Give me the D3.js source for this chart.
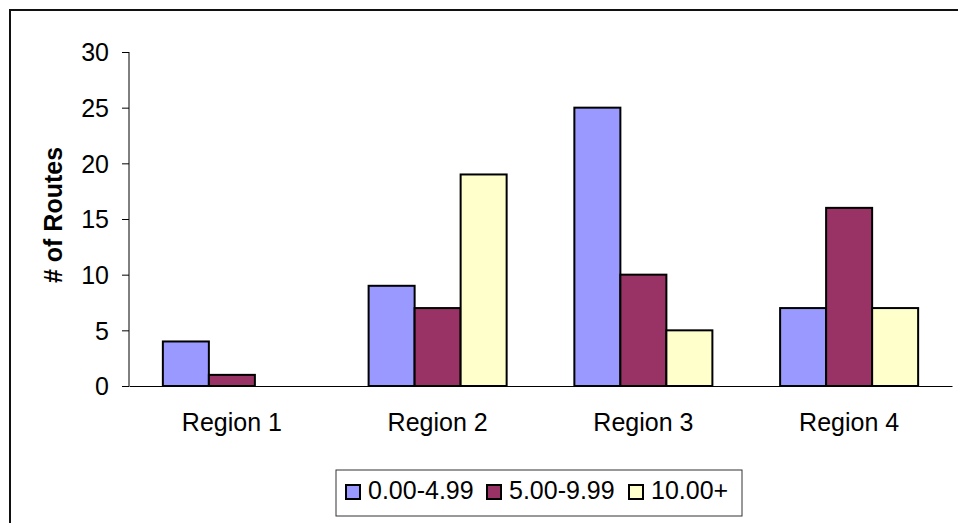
<!DOCTYPE html>
<html><head><meta charset="utf-8">
<script src="https://cdn.jsdelivr.net/npm/d3@7"></script>
<style>body{margin:0;background:#fff}svg{display:block}text{font-family:"Liberation Sans",Arial,sans-serif}</style>
</head><body>
<script>
const categories = ["Region 1","Region 2","Region 3","Region 4"];
const seriesNames = ["0.00-4.99","5.00-9.99","10.00+"];
const seriesColors = ["#9999FF","#993366","#FFFFCC"];
const low = [4,9,25,7];
const mid = [1,7,10,16];
const high = [0,19,5,7];
const yTicks = [0,5,10,15,20,25,30];
const values = [low, mid, high];

const W=958,H=523;
const svg=d3.select("body").append("svg").attr("width",W).attr("height",H);
svg.append("rect").attr("x",10).attr("y",10).attr("width",1000).attr("height",1000)
  .attr("fill","#fff").attr("stroke","#111").attr("stroke-width",2);

const plot={l:129,r:952,t:52,b:386};
const x=d3.scaleBand().domain(categories).range([plot.l,plot.r]).paddingInner(0).paddingOuter(0);
const xs=d3.scaleBand().domain(seriesNames).range([0,x.bandwidth()]).paddingInner(0).paddingOuter(0.736);
const y=d3.scaleLinear().domain([0,30]).range([plot.b,plot.t]);

// y axis
const ya=svg.append("g").attr("transform",`translate(${plot.l},0)`)
  .call(d3.axisLeft(y).tickValues(yTicks).tickSize(7).tickPadding(13).tickFormat(d3.format("d")));
ya.select(".domain").attr("stroke","#000").attr("d",`M-0,${plot.t}V${plot.b}`);
ya.selectAll(".tick line").attr("stroke","#000");
ya.selectAll(".tick text").attr("font-size",25).attr("fill","#000").attr("dy","0.35em")
  .style("font-family",'"Liberation Sans",Arial,sans-serif');

// bars
categories.forEach((c,ci)=>{
  seriesNames.forEach((s,si)=>{
    const v=values[si][ci];
    if(v<=0) return;
    svg.append("rect").attr("x",x(c)+xs(s)).attr("y",y(v))
      .attr("width",xs.bandwidth()).attr("height",y(0)-y(v))
      .attr("fill",seriesColors[si]).attr("stroke","#000").attr("stroke-width",2);
  });
});

// x axis
const xa=svg.append("g").attr("transform",`translate(0,${plot.b})`)
  .call(d3.axisBottom(x).tickSize(0).tickPadding(27));
xa.select(".domain").attr("stroke","#000");
xa.selectAll(".tick text").attr("font-size",25).attr("fill","#000")
  .style("font-family",'"Liberation Sans",Arial,sans-serif');

// axis title
svg.append("text").attr("transform","translate(62,215) rotate(-90)")
  .attr("text-anchor","middle").attr("font-size",25).attr("font-weight","bold").text("# of Routes");

// legend
const lg=svg.append("g");
lg.append("rect").attr("x",336).attr("y",470).attr("width",406).attr("height",46)
  .attr("fill","#fff").attr("stroke","#333").attr("stroke-width",1);
const lx=[346,487,629];
seriesNames.forEach((s,i)=>{
  lg.append("rect").attr("x",lx[i]).attr("y",485).attr("width",14).attr("height",14)
    .attr("fill",seriesColors[i]).attr("stroke","#000").attr("stroke-width",2);
  lg.append("text").attr("x",lx[i]+22).attr("y",499).attr("font-size",25).text(s);
});
</script>
</body></html>
